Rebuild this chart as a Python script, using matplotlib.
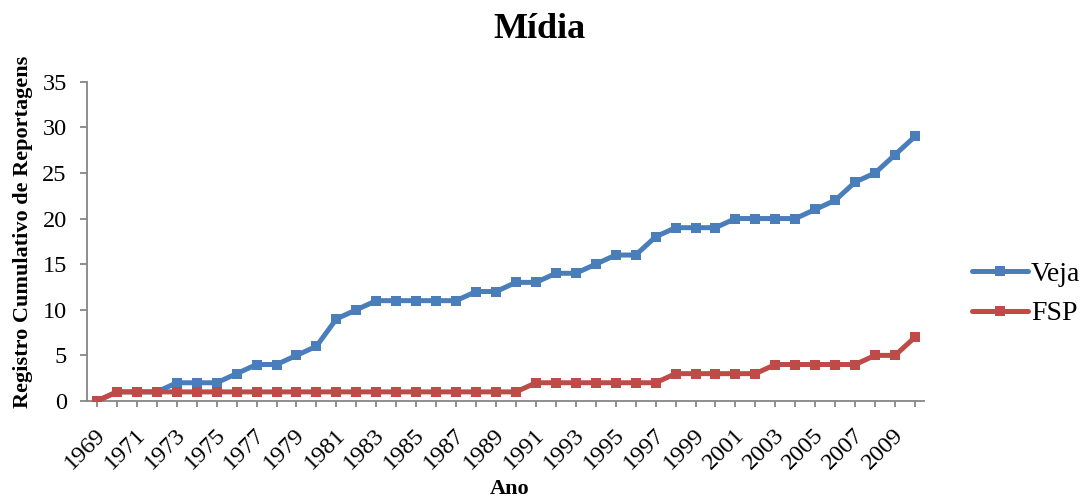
import matplotlib
matplotlib.use("Agg")
import matplotlib.pyplot as plt
import matplotlib.transforms as mtransforms

years = list(range(1969, 2011))
veja = [0, 1, 1, 1, 2, 2, 2, 3, 4, 4, 5, 6, 9, 10, 11, 11, 11, 11, 11, 12, 12,
        13, 13, 14, 14, 15, 16, 16, 18, 19, 19, 19, 20, 20, 20, 20, 21, 22, 24,
        25, 27, 29]
fsp = [0, 1, 1, 1, 1, 1, 1, 1, 1, 1, 1, 1, 1, 1, 1, 1, 1, 1, 1, 1, 1,
       1, 2, 2, 2, 2, 2, 2, 2, 3, 3, 3, 3, 3, 4, 4, 4, 4, 4, 5, 5, 7]
series_names = ["Veja", "FSP"]
title = "Mídia"
xlabel = "Ano"
ylabel = "Registro Cumulativo de Reportagens"
yticks = [0, 5, 10, 15, 20, 25, 30, 35]

plt.rcParams['font.family'] = ['Liberation Serif', 'DejaVu Serif']

W, H = 1081, 499
fig = plt.figure(figsize=(W / 100, H / 100), dpi=100)
left, right, top, bottom = 87, 924, 81.7, 401
ax = fig.add_axes([left / W, 1 - bottom / H, (right - left) / W, (bottom - top) / H])

blue = "#4A7EBB"
red = "#BE4B48"
ax.plot(years, veja, color=blue, lw=3.6, marker="s", ms=7.5, mew=0,
        label=series_names[0], solid_capstyle="round", zorder=3)
ax.plot(years, fsp, color=red, lw=3.6, marker="s", ms=7.5, mew=0,
        label=series_names[1], solid_capstyle="round", zorder=4)

ax.set_xlim(1968.5, 2010.45)
ax.set_ylim(0, 35)
ax.set_yticks(yticks)
ax.set_xticks(years)
ax.set_xticklabels([str(y) if (y - 1969) % 2 == 0 else "" for y in years])

for s in ["top", "right"]:
    ax.spines[s].set_visible(False)
for s in ["left", "bottom"]:
    ax.spines[s].set_color("#868686")
    ax.spines[s].set_linewidth(1.3)

ax.tick_params(axis="y", direction="out", length=5, width=1.3, color="#868686",
               labelsize=17.5, pad=9.5)
ax.tick_params(axis="x", direction="out", length=4, width=1.3, color="#868686",
               labelsize=17.5, pad=4)
offset = mtransforms.ScaledTranslation(-1.5 / 72, -9 / 72, fig.dpi_scale_trans)
for lab in ax.get_xticklabels():
    lab.set_rotation(45)
    lab.set_ha("right")
    lab.set_va("top")
    lab.set_rotation_mode("anchor")
    lab.set_transform(lab.get_transform() + offset)

fig.text(540 / W, 1 - 29 / H, title, ha="center", va="center",
         fontsize=26, fontweight="bold")
fig.text(23 / W, 1 - 232 / H, ylabel, ha="center", va="center",
         rotation=90, fontsize=16, fontweight="bold")
fig.text(510 / W, 1 - 489 / H, xlabel, ha="center", va="center",
         fontsize=16, fontweight="bold")

leg = ax.legend(loc="center left", bbox_to_anchor=(972 / W, 1 - 294 / H),
                bbox_transform=fig.transFigure, frameon=False, fontsize=20,
                handlelength=2.0, handletextpad=0.12, labelspacing=0.5,
                borderaxespad=0, borderpad=0)

fig.savefig("out.png", dpi=100)
